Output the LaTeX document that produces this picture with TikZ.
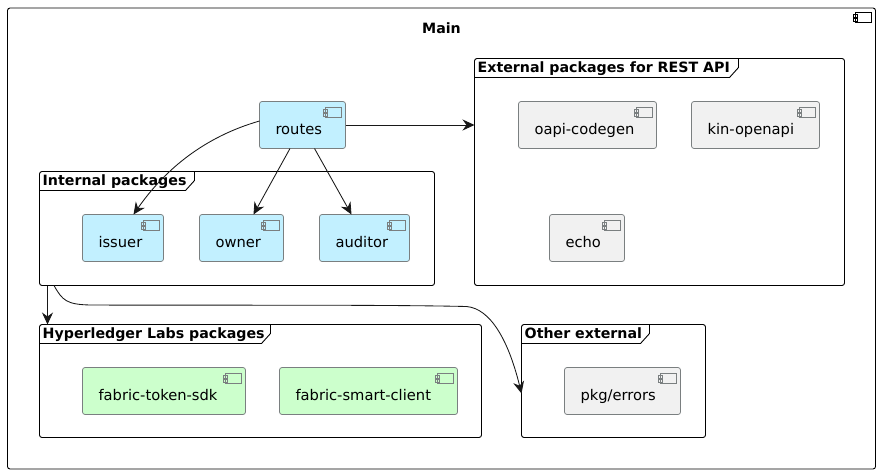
\documentclass[tikz,border=0pt]{standalone}
\usepackage{fontspec}
\setmainfont{DejaVu Sans}
\usetikzlibrary{arrows.meta}
\definecolor{inblue}{HTML}{C2F0FF}
\definecolor{hlgreen}{HTML}{CCFFCC}
\definecolor{extgrey}{HTML}{F1F1F1}
\definecolor{compline}{HTML}{7A7F80}
\definecolor{arrowline}{HTML}{181818}

\newcommand{\packtab}[3]{%
    \draw[frameline] ([yshift=-19pt]#1.north west) -- ++(#2-9,0) -- ++(9,-10) -- ++(0,-9);
    \node[tabtext] (#1tab) at ([xshift=3pt,yshift=-13.5pt]#1.north west) {#3};
}

\begin{document}
\begin{tikzpicture}[
    x=1pt, y=-1pt, shift={(.5,.5)},
    frameline/.style={draw=black, line width=.9pt},
    packframe/.style={frameline, fill=white, rounded corners=2.5pt, anchor=north west, inner sep=0pt, outer sep=0pt},
    tabtext/.style={anchor=base west, inner sep=0pt, font=\fontsize{14.2}{16}\selectfont\bfseries},
    comp/.style={draw=compline, line width=.75pt, rounded corners=2.5pt, anchor=north west,
        inner xsep=16pt, inner ysep=0pt, outer sep=0pt, align=left, text width=#1,
        text height=33pt, text depth=14pt, font=\fontsize{14.7}{16}\selectfont},
    dep/.style={draw=arrowline, line width=.85pt, -{Stealth[length=12pt, width=11pt, inset=4pt]}},
    pics/compicon/.style={code={
        \draw (-20,6) rectangle (-4.5,16);
        \draw (-22,7.5) rectangle (-17.8,10.5);
        \draw (-22,11.5) rectangle (-17.8,14.5);
    }}
]
    \useasboundingbox (-.5,-.5) rectangle (879.5,473.5);

    \node[packframe, minimum width=868pt, minimum height=461pt] (main) at (7,7.5) {};
    \node[anchor=base, inner sep=0pt, font=\fontsize{14.2}{16}\selectfont\bfseries] (maintitle) at (441,33) {Main};

    \node[packframe, minimum width=370pt, minimum height=227pt] (ext) at (474,58) {};
    \node[packframe, minimum width=395pt, minimum height=114pt] (int) at (39,171) {};
    \node[packframe, minimum width=442pt, minimum height=113pt] (hl) at (39,324) {};
    \node[packframe, minimum width=184pt, minimum height=113pt] (other) at (521,324) {};

    \packtab{ext}{264}{External packages for REST API}
    \packtab{int}{155}{Internal packages}
    \packtab{hl}{231}{Hyperledger Labs packages}
    \packtab{other}{128}{Other external}

    \node[comp=54pt, fill=inblue] (routes) at (259,101) {routes};
    \node[comp=49pt, fill=inblue] (issuer) at (82,214) {issuer};
    \node[comp=52pt, fill=inblue] (owner) at (199,214) {owner};
    \node[comp=58pt, fill=inblue] (auditor) at (319,214) {auditor};

    \node[comp=106pt, fill=extgrey] (oapi) at (518,101) {oapi-codegen};
    \node[comp=96pt, fill=extgrey] (kin) at (691,101) {kin-openapi};
    \node[comp=43pt, fill=extgrey] (echo) at (549,214) {echo};

    \node[comp=131pt, fill=hlgreen] (sdk) at (82,367) {fabric-token-sdk};
    \node[comp=146pt, fill=hlgreen] (client) at (279,367) {fabric-smart-client};
    \node[comp=84pt, fill=extgrey] (errors) at (564,367) {pkg/errors};

    \foreach \n in {routes, issuer, owner, auditor, oapi, kin, echo, sdk, client, errors}
        \pic[draw=compline, line width=.75pt] at (\n.north east) {compicon};
    \pic[draw=black, line width=.8pt] at ([yshift=1.5pt]main.north east) {compicon};

    \draw[dep] (routes.east) -- (routes.east -| ext.west);
    \draw[dep] ([yshift=4pt]routes.west) .. controls (205,136) and (165,168) .. ([xshift=10.5pt]issuer.north);
    \draw[dep] ([xshift=-12.5pt]routes.south) -- ([xshift=12pt]owner.north);
    \draw[dep] ([xshift=12pt]routes.south) -- ([xshift=-13pt]auditor.north);
    \draw[dep] ([xshift=8pt]int.south west) -- ([xshift=8pt]hl.north west);
    \draw[dep] ([xshift=14.5pt]int.south west) .. controls (62,300) and (66,304) .. (90,304.5)
        .. controls (200,305) and (380,304) .. (466,306)
        .. controls (490,308) and (508,340) .. ([yshift=-12.5pt]other.west);
\end{tikzpicture}
\end{document}
